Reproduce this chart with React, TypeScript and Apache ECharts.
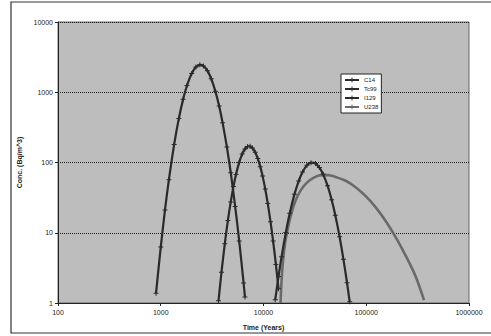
import React, { useEffect, useRef } from "react";
import * as echarts from "echarts";

// Time (years) and concentration (Bq/m^3)
const c14Time = [900, 1000, 1100, 1200, 1350, 1500, 1650, 1800, 2000, 2200, 2400, 2600, 2850, 3100, 3400, 3700, 4000, 4400, 4800, 5300, 5800, 6400, 6600];
const c14Conc = [1.38, 6.25, 21.1, 56.7, 180, 423, 792, 1247, 1847, 2282, 2455, 2366, 2018, 1556, 1034, 635, 367, 166, 71.6, 23.7, 7.66, 1.93, 1.22];

const tc99Time = [3650, 3900, 4200, 4500, 4800, 5100, 5400, 5800, 6200, 6600, 7000, 7400, 7800, 8300, 8800, 9300, 9800, 10400, 11000, 11700, 12400, 13200, 14000];
const tc99Conc = [1.08, 2.74, 6.95, 14.9, 27.5, 45.4, 67.5, 100.4, 131.8, 155.7, 168.9, 170.2, 161.2, 140.1, 113.8, 87.3, 64.0, 41.9, 26.1, 14.4, 7.62, 3.54, 1.6];

const i129Time = [13000, 14000, 15000, 16500, 18000, 20000, 22000, 24000, 26500, 29000, 32000, 35000, 38000, 42000, 46000, 50000, 55000, 60000, 65000, 69000];
const i129Conc = [1.11, 2.38, 4.57, 10.1, 18.9, 35.2, 54.5, 73.3, 91.1, 99.4, 96.9, 84.8, 68.4, 46.8, 29.6, 17.7, 8.77, 4.18, 1.94, 1.04];

const u238Time = [14660, 14960, 15490, 16220, 17180, 18620, 20420, 22910, 26300, 30900, 36310, 42660, 50120, 63100, 79430, 100000, 125900, 158500, 199500, 251200, 302000, 365000];
const u238Conc = [1.0, 2.0, 4.0, 7.1, 11.2, 18.6, 28.2, 39.8, 51.3, 61.0, 66.1, 66.1, 62.4, 55.0, 44.2, 32.6, 22.2, 13.9, 8.0, 4.24, 2.4, 1.1];

const seriesNames = ["C14", "Tc99", "I129", "U238"];
const xTicks = [100, 1000, 10000, 100000, 1000000];
const yTicks = [1, 10, 100, 1000, 10000];

const pair = (t: number[], c: number[]) => t.map((v, i) => [v, c[i]]);

const plusSymbol = "path://M4,0H6V4H10V6H6V10H4V6H0V4H4Z";
const FONT = "Liberation Sans, Arial, sans-serif";

export default function App() {
  const ref = useRef<HTMLDivElement>(null);
  useEffect(() => {
    document.body.style.margin = "0";
    if (!ref.current) return;
    const chart = echarts.init(ref.current, undefined, { renderer: "svg" });
    const markerSeries = (name: string, data: number[][]) => ({
      name,
      type: "line",
      data,
      smooth: 0.3,
      symbol: plusSymbol,
      symbolSize: 5,
      showSymbol: true,
      lineStyle: { color: "#2a2a2a", width: 2.2 },
      itemStyle: { color: "#2a2a2a" },
      z: 3,
    });
    chart.setOption({
      animation: false,
      backgroundColor: "#ffffff",
      textStyle: { fontFamily: FONT },
      graphic: [
        {
          type: "rect",
          shape: { x: 11, y: 2, width: 490, height: 331 },
          style: { fill: "none", stroke: "#333", lineWidth: 1.2 },
          silent: true,
          z: -1,
        },
      ],
      grid: {
        left: 58,
        top: 22,
        right: 22,
        bottom: 31,
        show: true,
        backgroundColor: "#bdbdbd",
        borderColor: "#666",
        borderWidth: 1,
      },
      legend: {
        orient: "vertical",
        left: 341,
        top: 74,
        data: seriesNames,
        backgroundColor: "#ffffff",
        borderColor: "#222",
        borderWidth: 1,
        padding: [3, 3, 3, 3],
        itemGap: 3,
        itemWidth: 14,
        itemHeight: 6,
        textStyle: { fontSize: 6, color: "#222", fontFamily: FONT },
      },
      xAxis: {
        type: "log",
        logBase: 10,
        min: xTicks[0],
        max: xTicks[xTicks.length - 1],
        name: "Time (Years)",
        nameLocation: "middle",
        nameGap: 21,
        nameTextStyle: { fontSize: 7, fontWeight: "bold", color: "#222" },
        axisLine: { lineStyle: { color: "#222", width: 1 } },
        axisTick: { show: true, length: 3, lineStyle: { color: "#222" } },
        minorTick: { show: false },
        splitLine: { show: false },
        axisLabel: {
          fontSize: 7,
          color: "#222",
          margin: 6,
          formatter: (v: number) => String(Math.round(v)),
        },
      },
      yAxis: {
        type: "log",
        logBase: 10,
        min: yTicks[0],
        max: yTicks[yTicks.length - 1],
        name: "Conc. (Bq/m^3)",
        nameLocation: "middle",
        nameGap: 28,
        nameTextStyle: { fontSize: 7, fontWeight: "bold", color: "#222" },
        axisLine: { lineStyle: { color: "#222", width: 1 } },
        axisTick: { show: true, length: 3, lineStyle: { color: "#222" } },
        splitLine: { show: true, lineStyle: { color: "#222", type: "dotted", width: 1 } },
        axisLabel: {
          fontSize: 7,
          color: "#222",
          margin: 5,
          formatter: (v: number) => String(Math.round(v)),
        },
      },
      series: [
        markerSeries(seriesNames[0], pair(c14Time, c14Conc)),
        markerSeries(seriesNames[1], pair(tc99Time, tc99Conc)),
        markerSeries(seriesNames[2], pair(i129Time, i129Conc)),
        {
          name: seriesNames[3],
          type: "line",
          data: pair(u238Time, u238Conc),
          smooth: 0.3,
          symbol: plusSymbol,
          symbolSize: 5,
          showSymbol: false,
          lineStyle: { color: "#6a6a6a", width: 2.6 },
          itemStyle: { color: "#6a6a6a" },
          z: 2,
        },
      ],
    });
    return () => chart.dispose();
  }, []);
  return <div ref={ref} style={{ width: 491, height: 336 }} />;
}
